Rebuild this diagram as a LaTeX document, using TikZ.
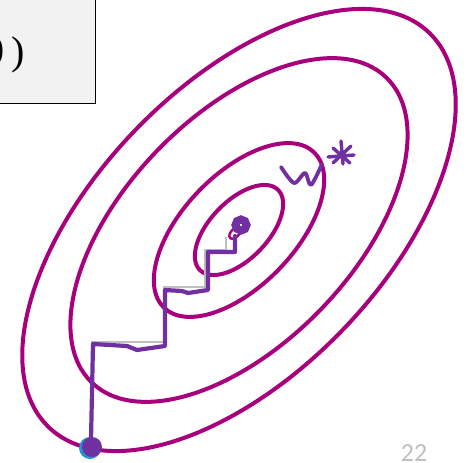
\documentclass[tikz,border=0pt]{standalone}
\usepackage{fontspec}
\setmainfont{Liberation Serif}
\newfontfamily\slidefont{Carlito}
\definecolor{contourmag}{RGB}{168,0,124}
\definecolor{stepviolet}{RGB}{112,48,160}
\definecolor{dotblue}{RGB}{30,150,210}
\begin{document}
\begin{tikzpicture}[x=1pt,y=-1pt,
    contour/.style={draw=contourmag, line width=4pt},
    descent/.style={draw=stepviolet, line width=4.2pt, line join=round, line cap=round}]
  \useasboundingbox (0,0) rectangle (469,463);
  % Text box cut at the slide edge
  \draw[line width=1.6pt, fill=black!5] (-5,-5) rectangle (95.5,103.5);
  \node[anchor=base east, inner sep=0pt, font=\fontsize{40}{44}\selectfont] (cut) at (25,64) {0\kern7pt)};
  % Level sets of the loss
  \foreach \a/\b in {274/144, 212/114, 108/56, 56/29}
    \draw[contour, rotate around={46:(239,230)}] (239,230) ellipse [x radius=\a, y radius=\b];
  \draw[contour, line width=2.4pt, rotate around={46:(235,233)}] (235,233) ellipse [x radius=7, y radius=4];
  % Faint staircase under the descent path
  \draw[black!25, line width=1.5pt] (92,446) -- (92,342) -- (164,342) -- (164,287) -- (205,287) -- (205,250) -- (226,250) -- (226,237);
  % Descent path from the start point
  \draw[descent] (91,440) -- (93,344) -- (127,346) -- (137,350) -- (165,346) -- (165,290)
    -- (182,291) -- (188,293) -- (208,290) -- (208,252) -- (235,252) -- (235,236);
  \draw[stepviolet, line width=8pt] (241,225) circle (5.5);
  \fill[dotblue] (90,448) circle (11);
  \fill[stepviolet] (92,447) circle (10);
  % Handwritten w*
  \draw[descent, line width=3.8pt] plot[smooth] coordinates {(281,167) (294,183) (305,173) (311,185) (322,164)};
  \draw[descent, line width=3.4pt] (341,141) -- (343,164) (328,157) -- (354,155)
    (333,148) -- (350,163) (351,146) -- (333,163);
  % Slide number
  \node[anchor=base, inner sep=0pt, text=black!25, font=\slidefont\fontsize{26}{30}\selectfont] (pagenum) at (414,461) {22};
\end{tikzpicture}
\end{document}
